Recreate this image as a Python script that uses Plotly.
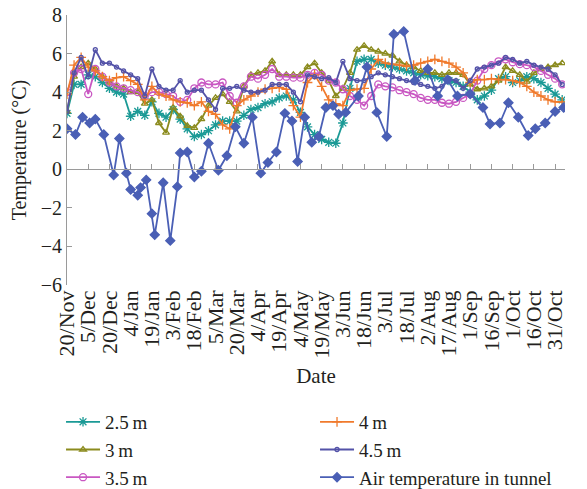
import plotly.graph_objects as go

# ---------------- data ----------------
tick_days = [0, 15, 30, 45, 60, 75, 90, 105, 120, 135, 150, 165, 180, 195,
             210, 225, 240, 255, 270, 285, 300, 315, 330, 345]
tick_labels = ["20/Nov", "5/Dec", "20/Dec", "4/Jan", "19/Jan", "3/Feb", "18/Feb",
               "5/Mar", "20/Mar", "4/Apr", "19/Apr", "4/May", "19/May", "3/Jun",
               "18/Jun", "3/Jul", "18/Jul", "2/Aug", "17/Aug", "1/Sep", "16/Sep",
               "1/Oct", "16/Oct", "31/Oct"]

# days since 20 Nov for the ground-temperature readings
soil_day = [0, 5, 10, 15, 20, 25, 30, 35, 40, 45, 50, 55, 60, 65, 70, 75, 80, 85,
            90, 95, 100, 105, 110, 115, 120, 125, 130, 135, 140, 145, 150, 155,
            160, 165, 170, 175, 180, 185, 190, 195, 200, 205, 210, 215, 220, 225,
            230, 235, 240, 245, 250, 255, 260, 265, 270, 275, 280, 285, 290, 295,
            300, 305, 310, 315, 320, 325, 330, 335, 340, 345, 350]

t_2_5 = [2.9, 4.4, 4.4, 4.9, 4.8, 4.5, 4.2, 4.0, 3.9, 2.75, 3.0, 2.8, 3.5, 2.9,
         2.7, 3.1, 2.6, 2.1, 1.7, 1.8, 2.0, 2.3, 2.5, 2.5, 2.5, 2.8, 3.1, 3.2,
         3.4, 3.5, 3.7, 3.8, 3.6, 2.95, 2.2, 1.8, 1.55, 1.4, 1.35, 2.4, 4.2, 5.6,
         5.7, 5.7, 5.5, 5.4, 5.3, 5.2, 5.1, 5.0, 4.9, 4.85, 4.8, 4.7, 4.6, 4.5,
         4.3, 4.0, 3.6, 3.8, 4.1, 4.7, 4.8, 4.5, 4.6, 4.8, 4.7, 4.5, 4.2, 3.9, 3.6]

t_3 = [3.0, 4.8, 5.3, 5.5, 5.2, 4.8, 4.5, 4.3, 4.2, 4.0, 4.0, 3.4, 3.6, 2.4,
       1.9, 3.2, 2.75, 2.25, 2.15, 2.6, 3.3, 3.7, 3.9, 3.5, 3.0, 4.3, 4.9, 5.0,
       5.1, 5.6, 4.9, 4.9, 4.9, 4.9, 5.3, 5.5, 5.0, 4.6, 3.8, 4.2, 5.0, 6.2,
       6.4, 6.2, 6.1, 6.0, 5.9, 5.6, 5.4, 5.3, 5.1, 5.0, 5.0, 4.9, 5.0, 5.0,
       4.9, 4.4, 4.15, 4.2, 4.3, 4.6, 5.3, 5.1, 4.9, 4.55, 5.0, 5.2, 5.3, 5.4, 5.5]

t_3_5 = [4.0, 5.0, 5.2, 3.9, 5.2, 4.8, 4.5, 4.3, 4.2, 4.1, 4.0, 3.8, 4.0, 4.0,
         3.9, 3.8, 3.5, 3.6, 4.2, 4.5, 4.4, 4.4, 4.5, 3.8, 3.45, 4.3, 4.8, 4.7,
         4.9, 5.2, 4.8, 4.8, 4.75, 4.75, 4.9, 5.0, 4.9, 4.6, 4.5, 4.15, 3.8, 3.6,
         3.3, 3.8, 4.4, 4.3, 4.25, 4.1, 4.0, 3.9, 3.7, 3.6, 3.6, 3.45, 3.4, 3.5,
         3.7, 3.9, 4.6, 5.2, 5.4, 5.6, 5.7, 5.55, 5.45, 5.4, 5.3, 5.1, 4.9, 4.7, 4.4]

t_4 = [3.9, 5.4, 5.8, 5.3, 5.1, 4.8, 4.6, 4.75, 4.8, 4.6, 4.4, 3.6, 4.3, 3.9,
       3.8, 3.6, 3.5, 3.45, 3.3, 3.5, 3.0, 2.85, 2.3, 2.1, 3.3, 3.6, 3.8, 4.0,
       4.15, 4.2, 4.25, 4.15, 3.3, 2.7, 4.5, 4.9, 4.3, 3.6, 3.4, 3.3, 4.1, 4.15,
       4.2, 5.2, 5.7, 5.5, 5.45, 5.4, 5.35, 5.4, 5.5, 5.6, 5.7, 5.6, 5.5, 5.3,
       5.0, 4.5, 4.65, 4.65, 4.7, 4.65, 4.65, 4.6, 4.5, 4.3, 4.0, 3.8, 3.6, 3.5, 3.5]

t_4_5 = [3.0, 5.0, 5.8, 4.8, 6.2, 5.5, 5.5, 5.3, 5.1, 4.9, 4.7, 3.8, 5.2, 4.3,
         4.1, 4.1, 4.6, 4.0, 4.1, 4.1, 3.6, 3.1, 4.2, 4.2, 4.3, 4.1, 4.0, 4.0,
         4.1, 4.4, 4.4, 4.4, 4.0, 3.5, 4.9, 4.8, 4.7, 4.75, 4.5, 5.6, 4.7, 4.6,
         4.6, 4.8, 5.0, 4.9, 4.8, 4.7, 4.6, 4.5, 4.4, 4.3, 4.2, 4.3, 4.7, 4.6,
         4.2, 4.6, 5.2, 5.3, 5.4, 5.5, 5.8, 5.7, 5.5, 5.6, 5.4, 5.3, 5.2, 4.9, 4.4]

# days since 20 Nov for the tunnel-air readings
air_day = [0, 6, 11, 16, 20, 26, 33, 37, 42, 45, 50, 52, 56, 60, 62, 68, 73, 78,
           80, 85, 90, 95, 100, 107, 113, 119, 125, 131, 137, 142, 148, 154, 159,
           163, 168, 173, 178, 183, 188, 192, 197, 206, 212, 219, 226, 231, 238,
           246, 255, 262, 269, 276, 285, 294, 299, 306, 312, 319, 326, 331, 338,
           345, 351]
t_air = [2.1, 1.8, 2.7, 2.4, 2.6, 1.8, -0.3, 1.6, -0.2, -1.05, -1.35, -0.95,
         -0.55, -2.3, -3.4, -0.7, -3.7, -0.9, 0.85, 0.9, -0.4, -0.1, 1.35, -0.05,
         0.7, 2.2, 1.35, 2.7, -0.2, 0.35, 0.9, 2.9, 2.5, 0.4, 2.7, 1.4, 1.7, 3.2,
         3.3, 2.85, 2.95, 3.8, 5.3, 2.95, 1.7, 7.0, 7.15, 4.6, 5.2, 3.8, 4.65,
         3.8, 3.9, 3.2, 2.35, 2.4, 3.45, 2.7, 1.75, 2.1, 2.4, 3.0, 3.2]

# ---------------- styles ----------------
FONT = "Liberation Serif, Times New Roman, serif"
series = [
    # name, x, y, color, symbol, size, legendrank
    ("2.5\u2009m", soil_day, t_2_5, "#1B9A96", "asterisk-open", 8, 1),
    ("3\u2009m", soil_day, t_3, "#8B8B1E", "triangle-up-open", 6, 3),
    ("3.5\u2009m", soil_day, t_3_5, "#C957C2", "circle-open", 7, 5),
    ("4\u2009m", soil_day, t_4, "#F07A2C", "cross-thin-open", 7, 2),
    ("4.5\u2009m", soil_day, t_4_5, "#5352A8", "circle-open", 4, 4),
    ("Air temperature in tunnel", air_day, t_air, "#4A5FB5", "diamond", 7, 6),
]

fig = go.Figure()
for name, xs, ys, col, sym, sz, rank in series:
    fig.add_trace(go.Scatter(
        x=xs, y=ys, name=name, mode="lines+markers", legendrank=rank,
        line=dict(color=col, width=1.8),
        marker=dict(symbol=sym, size=sz, color=col,
                    line=dict(color=col, width=1.3)),
    ))

# invisible helper so that the zero-line axis (with its ticks) is drawn
fig.add_trace(go.Scatter(x=[soil_day[0]], y=[t_2_5[0]], xaxis="x2",
                         mode="markers", opacity=0, showlegend=False,
                         hoverinfo="skip"))

fig.update_layout(
    width=587, height=489,
    margin=dict(l=67, r=22, t=15, b=204, autoexpand=False),
    paper_bgcolor="white", plot_bgcolor="white",
    font=dict(family=FONT, size=19, color="#231F20"),
    showlegend=True,
    legend=dict(orientation="h", x=-0.012, xanchor="left", y=-0.785,
                yanchor="bottom", entrywidth=205, entrywidthmode="pixels",
                font=dict(family=FONT, size=19), traceorder="normal",
                itemwidth=34, tracegroupgap=0),
    xaxis=dict(range=[0, 352], tickmode="array", tickvals=tick_days,
               ticktext=tick_labels, tickangle=-90, ticks="",
               showline=False, showgrid=False, zeroline=False,
               tickfont=dict(family=FONT, size=22),
               title=dict(text="Date", font=dict(family=FONT, size=21),
                          standoff=10)),
    xaxis2=dict(range=[0, 352], overlaying="x", anchor="free",
                position=6 / 14, side="bottom", showline=True,
                linecolor="#9A9A9A", linewidth=1, ticks="inside",
                ticklen=5, tickcolor="#9A9A9A", tickvals=tick_days,
                showticklabels=False, showgrid=False, zeroline=False),
    yaxis=dict(range=[-6, 8], dtick=2, ticks="inside", ticklen=5,
               tickcolor="#9A9A9A", showline=True, linecolor="#9A9A9A",
               linewidth=1, showgrid=False, zeroline=False,
               tickfont=dict(family=FONT, size=20),
               title=dict(text="Temperature (°C)",
                          font=dict(family=FONT, size=20), standoff=8)),
)

fig.write_html("out.html")
